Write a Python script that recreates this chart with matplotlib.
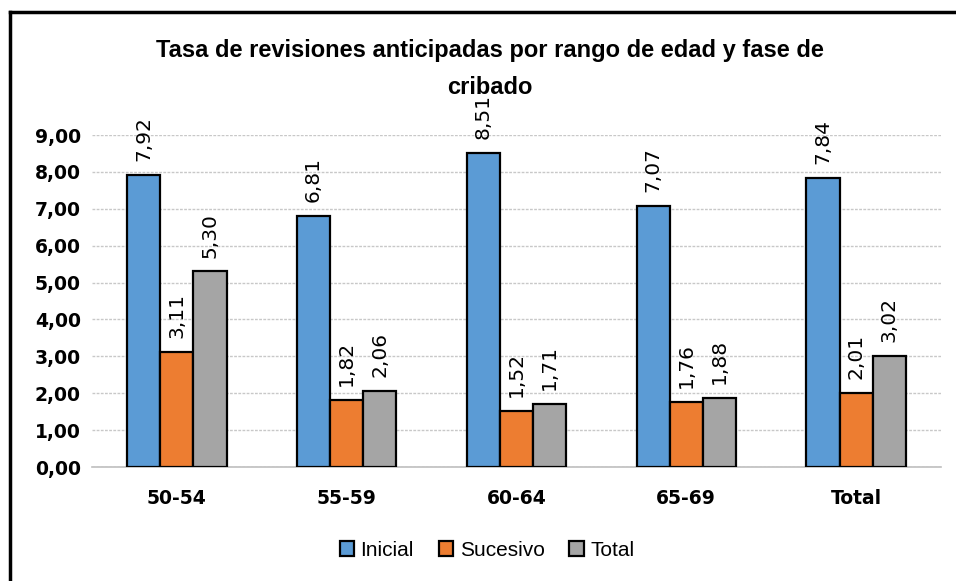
import numpy as np
import matplotlib.pyplot as plt
from matplotlib.lines import Line2D

# Datos
categorias = ['50-54', '55-59', '60-64', '65-69', 'Total']
inicial = [7.92, 6.81, 8.51, 7.07, 7.84]
sucesivo = [3.11, 1.82, 1.52, 1.76, 2.01]
total = [5.30, 2.06, 1.71, 1.88, 3.02]

series = [('Inicial', inicial, '#5B9BD5'),
          ('Sucesivo', sucesivo, '#ED7D31'),
          ('Total', total, '#A5A5A5')]

plt.rcParams['font.family'] = ['Liberation Sans Narrow', 'Liberation Sans', 'DejaVu Sans']

fig = plt.figure(figsize=(9.56, 5.81), dpi=100)
ax = fig.add_axes([92 / 956, 1 - 467 / 581, (941 - 92) / 956, (467 - 135) / 581])

# Marco del gráfico (solo arriba e izquierda visibles)
fig.lines.append(Line2D([10 / 956, 1], [1 - 12 / 581, 1 - 12 / 581],
                        transform=fig.transFigure, color='black', linewidth=2.5))
fig.lines.append(Line2D([10 / 956, 10 / 956], [0, 1 - 12 / 581],
                        transform=fig.transFigure, color='black', linewidth=2.5))

x = np.arange(len(categorias))
w = 0.195
for i, (nombre, vals, color) in enumerate(series):
    pos = x + (i - 1) * w
    ax.bar(pos, vals, w, color=color, edgecolor='black', linewidth=1.6,
           label=nombre, zorder=3)
    for xp, v in zip(pos, vals):
        ax.annotate(f'{v:.2f}'.replace('.', ','), (xp, v), xytext=(0, 10),
                    textcoords='offset points', rotation=90,
                    ha='center', va='bottom', fontsize=14.5, family='DejaVu Sans',
                    annotation_clip=False)

ax.set_xlim(-0.5, 4.5)
ax.set_ylim(0, 9)
ax.set_yticks(np.arange(0, 10, 1))
ax.set_yticklabels([f'{t:.2f}'.replace('.', ',') for t in range(10)],
                   fontsize=13.5, fontweight='bold', family='DejaVu Sans')
ax.set_xticks(x)
ax.set_xticklabels(categorias, fontsize=13.5, fontweight='bold', family='DejaVu Sans')
ax.tick_params(length=0, pad=8)
ax.tick_params(axis='x', pad=16)
ax.grid(axis='y', color='#c8c8c8', linestyle=(0, (2, 1)), linewidth=1, zorder=0)
for s in ['top', 'right', 'left']:
    ax.spines[s].set_visible(False)
ax.spines['bottom'].set_color('#bfbfbf')
ax.spines['bottom'].set_linewidth(1.2)

fig.text(490 / 956, 1 - 50 / 581, 'Tasa de revisiones anticipadas por rango de edad y fase de',
         ha='center', va='center', fontsize=17, fontweight='bold')
fig.text(490 / 956, 1 - 88 / 581, 'cribado',
         ha='center', va='center', fontsize=17, fontweight='bold')

fig.legend(loc='center', bbox_to_anchor=(487 / 956, 1 - 550 / 581), ncol=3,
           frameon=False, fontsize=15, handlelength=0.7, handleheight=0.7,
           handletextpad=0.3, columnspacing=1.2)

fig.savefig('out.png', dpi=100)
